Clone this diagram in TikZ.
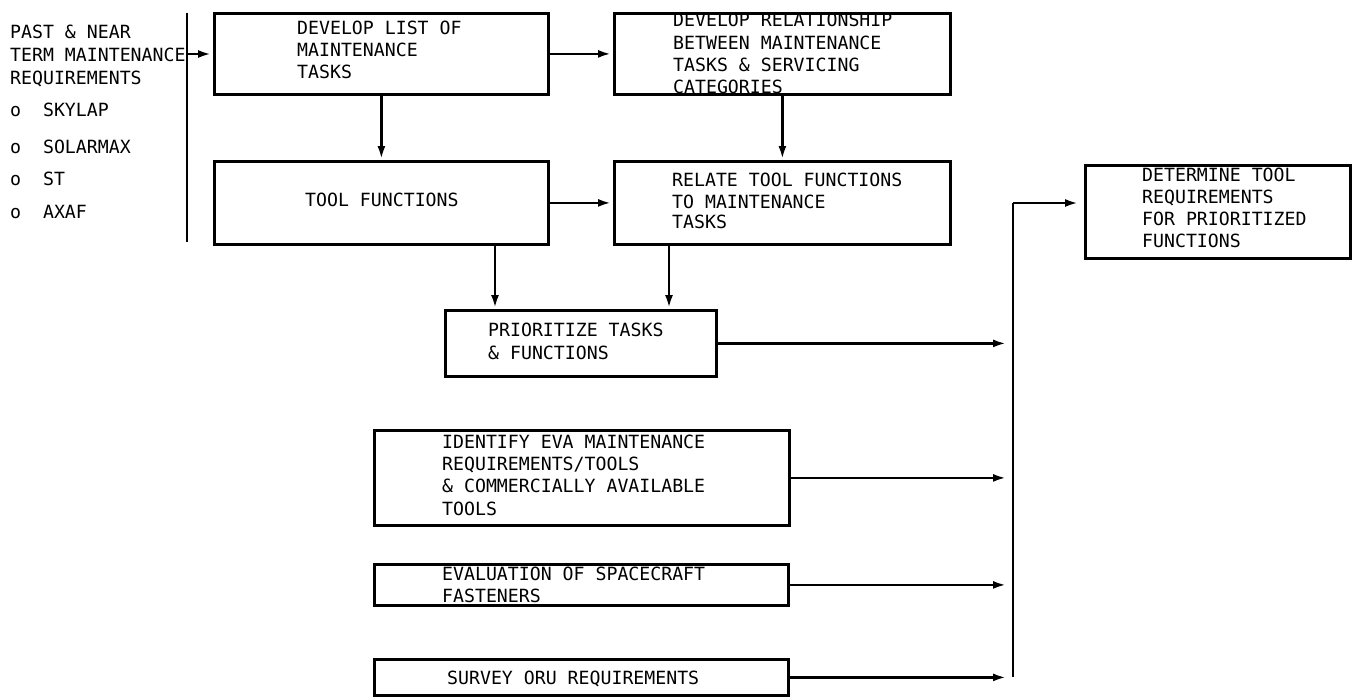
\documentclass[tikz,border=0pt]{standalone}
\usepackage{fontspec}
\newfontfamily\txtfont{DejaVu Sans Mono}
\usetikzlibrary{arrows.meta}
\begin{document}
\begin{tikzpicture}[x=1pt,y=-1pt,
  boxnode/.style={draw=black, line width=2.8pt, rectangle, inner sep=0pt, anchor=north west},
  lbl/.style={anchor=base west, inner sep=0pt, font=\txtfont\fontsize{18.2}{22}\selectfont},
  arr/.style={line width=2.5pt, -{Latex[length=13pt,width=8pt]}},
  plain/.style={line width=2.6pt}]
\useasboundingbox (0,0) rectangle (1354,696);

% boxes
\node[boxnode, minimum width=334pt, minimum height=81pt] (box1) at (213,12) {};
\node[boxnode, minimum width=336pt, minimum height=81pt] (box2) at (613,12) {};
\node[boxnode, minimum width=334pt, minimum height=83pt] (box3) at (213,160) {};
\node[boxnode, minimum width=336pt, minimum height=83pt] (box4) at (613,160) {};
\node[boxnode, minimum width=271pt, minimum height=66pt] (box5) at (444,309) {};
\node[boxnode, minimum width=415pt, minimum height=95pt] (box6) at (373,429) {};
\node[boxnode, minimum width=414pt, minimum height=41pt] (box7) at (373,563) {};
\node[boxnode, minimum width=414pt, minimum height=36pt] (box8) at (373,658) {};
\node[boxnode, minimum width=265pt, minimum height=93pt] (box9) at (1084,164) {};

% left text
\node[lbl] (l1) at (10,38.5) {PAST \& NEAR};
\node[lbl] (l2) at (10,61.5) {TERM MAINTENANCE};
\node[lbl] (l3) at (10,84.5) {REQUIREMENTS};
\node[lbl] (l4) at (10,116.5) {o\ \ SKYLAP};
\node[lbl] (l5) at (10,153.5) {o\ \ SOLARMAX};
\node[lbl] (l6) at (10,185.5) {o\ \ ST};
\node[lbl] (l7) at (10,218.5) {o\ \ AXAF};

% box texts
\node[lbl] (t1a) at (297,34.5) {DEVELOP LIST OF};
\node[lbl] (t1b) at (297,56.5) {MAINTENANCE};
\node[lbl] (t1c) at (297,78.5) {TASKS};

\node[lbl] (t2a) at (673,26.5) {DEVELOP RELATIONSHIP};
\node[lbl] (t2b) at (673,49.5) {BETWEEN MAINTENANCE};
\node[lbl] (t2c) at (673,71.5) {TASKS \& SERVICING};
\node[lbl] (t2d) at (673,93.5) {CATEGORIES};

\node[lbl] (t3) at (305,206.5) {TOOL FUNCTIONS};

\node[lbl] (t4a) at (672,186.5) {RELATE TOOL FUNCTIONS};
\node[lbl] (t4b) at (672,208) {TO MAINTENANCE};
\node[lbl] (t4c) at (672,228.5) {TASKS};

\node[lbl] (t5a) at (488,336.5) {PRIORITIZE TASKS};
\node[lbl] (t5b) at (488,359.5) {\& FUNCTIONS};

\node[lbl] (t6a) at (442,448) {IDENTIFY EVA MAINTENANCE};
\node[lbl] (t6b) at (442,470) {REQUIREMENTS/TOOLS};
\node[lbl] (t6c) at (442,492.5) {\& COMMERCIALLY AVAILABLE};
\node[lbl] (t6d) at (442,515) {TOOLS};

\node[lbl] (t7a) at (442,580.5) {EVALUATION OF SPACECRAFT};
\node[lbl] (t7b) at (442,602.5) {FASTENERS};

\node[lbl] (t8) at (447,684.5) {SURVEY ORU REQUIREMENTS};

\node[lbl] (t9a) at (1142,181.5) {DETERMINE TOOL};
\node[lbl] (t9b) at (1142,203.5) {REQUIREMENTS};
\node[lbl] (t9c) at (1142,225.5) {FOR PRIORITIZED};
\node[lbl] (t9d) at (1142,247.5) {FUNCTIONS};

% helper coordinates
\coordinate (bartop) at (187,13);
\coordinate (barbot) at (187,242);
\coordinate (barmid) at (187,54);
\coordinate (xa) at (495,0);
\coordinate (xb) at (669,0);
\coordinate (ctop) at (1013,203);
\coordinate (cbot) at (1013,677);
\coordinate (cend) at (1006,0);

% left bar
\draw[plain] (bartop) -- (barbot);
\draw[arr, shorten >=2pt] (barmid) -- (box1.west |- barmid);

% connectors
\draw[arr, shorten >=2pt] (box1.east) -- (box2.west);
\draw[arr, shorten >=2pt] (box3.east) -- (box4.west);
\draw[arr, shorten >=1pt] (box1.south) -- (box3.north);
\draw[arr, shorten >=1pt] (box2.south) -- (box4.north);
\draw[arr, shorten >=1pt] (box3.south -| xa) -- (box5.north -| xa);
\draw[arr, shorten >=1pt] (box4.south -| xb) -- (box5.north -| xb);

\draw[arr] (box5.east) -- (box5.east -| cend);
\draw[arr] (box6.east) -- (box6.east -| cend);
\draw[arr] (box7.east) -- (box7.east -| cend);
\draw[arr] (box8.east) -- (box8.east -| cend);

\draw[plain] (cbot) -- (ctop);
\draw[arr, shorten >=6pt] (ctop) -- (box9.west |- ctop);
\end{tikzpicture}
\end{document}
